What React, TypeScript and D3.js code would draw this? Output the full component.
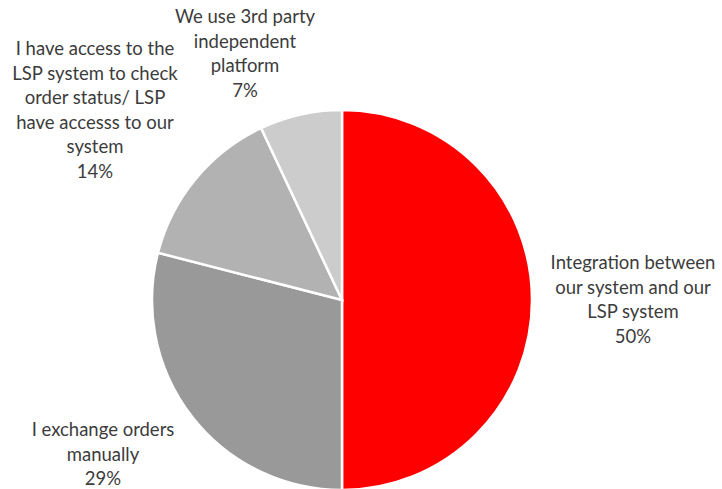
import React from "react";
import * as d3 from "d3";

const categories = [
  "Integration between our system and our LSP system",
  "I exchange orders manually",
  "I have access to the LSP system to check order status/ LSP have accesss to our system",
  "We use 3rd party independent platform",
];
const values = [50, 29, 14, 7];
const labelLines = [
  ["Integration between", "our system and our", "LSP system"],
  ["I exchange orders", "manually"],
  ["I have access to the", "LSP system to check", "order status/ LSP", "have accesss to our", "system"],
  ["We use 3rd party", "independent", "platform"],
];
const colors = ["#ff0000", "#999999", "#b2b2b2", "#cccccc"];

// layout
const W = 722;
const H = 489;
const CX = 342;
const CY = 300;
const R = 190;
const labelPos: [number, number][] = [
  [633, 269],
  [103, 436],
  [95, 55],
  [245, 23],
];
const LINE_H = 24.5;

export default function App() {
  const pie = d3.pie<number>().sort(null).value((d) => d);
  const arcs = pie(values);
  const arc = d3.arc<d3.PieArcDatum<number>>().innerRadius(0).outerRadius(R);
  return (
    <svg
      width={W}
      height={H}
      style={{ position: "absolute", left: 0, top: 0, background: "#fff" }}
      fontFamily="Lato, 'Open Sans', sans-serif"
    >
      <g transform={`translate(${CX},${CY})`}>
        {arcs.map((a, i) => (
          <path key={i} d={arc(a) || ""} fill={colors[i]} stroke="#fff" strokeWidth={2.5} />
        ))}
      </g>
      {categories.map((c, i) => {
        const lines = [...labelLines[i], `${values[i]}%`];
        const [x, y] = labelPos[i];
        return (
          <text key={c} x={x} y={y} textAnchor="middle" fontSize={18.5} fill="#3c3c3c">
            {lines.map((l, j) => (
              <tspan key={j} x={x} y={y + j * LINE_H}>
                {l}
              </tspan>
            ))}
          </text>
        );
      })}
    </svg>
  );
}
